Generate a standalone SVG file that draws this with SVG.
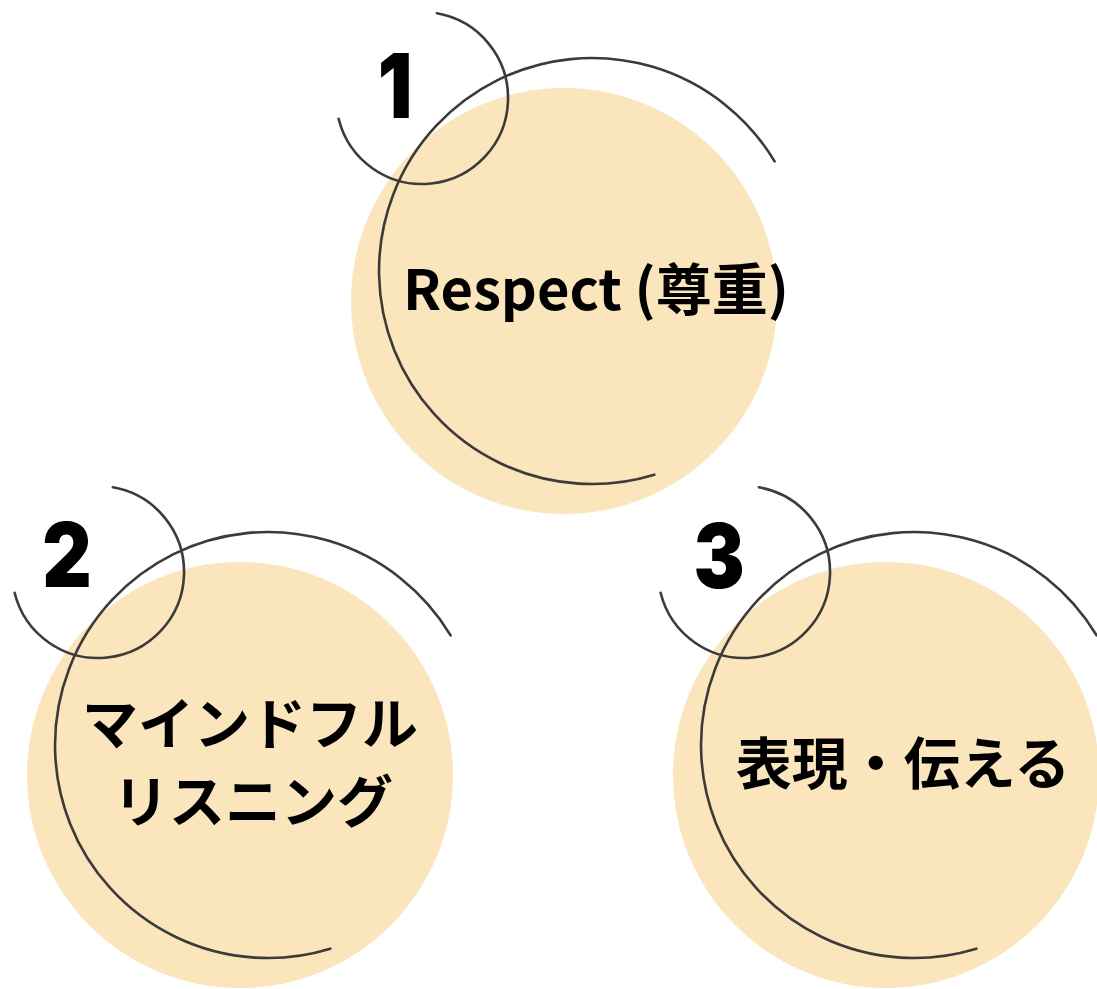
<svg xmlns="http://www.w3.org/2000/svg" width="1097" height="989" viewBox="0 0 1097 989">
<style>
.disc{fill:#FAE5BC;stroke:none}
.ring{fill:none;stroke:#3d3a3a;stroke-width:2.6;stroke-linecap:round}
.num{font-family:Inter,"Noto Sans",sans-serif;font-weight:900;font-size:89px;fill:#000;text-anchor:middle}
.lbl{font-family:"Noto Sans CJK JP","Noto Sans",sans-serif;font-weight:700;font-size:56px;fill:#000;text-anchor:middle}
</style>
<defs>
<g id="deco">
<circle class="disc" cx="0" cy="0" r="213"/>
<path class="ring" d="M 210.6 -139.7 A 213 213 0 1 0 90.3 173.7"/>
<path class="ring" d="M -127.1 -287.7 A 86 86 0 1 1 -225.4 -182.2"/>
</g>
</defs>
<g id="connectors"></g>
<g id="node1">
<use href="#deco" x="564" y="301"/>
<text class="num" transform="translate(395 118) scale(0.86 1)">1</text>
<text class="lbl" x="596" y="310">Respect (尊重)</text>
</g>
<g id="node2">
<use href="#deco" x="240" y="775"/>
<text class="num" transform="translate(67 587) scale(0.86 1)">2</text>
<text class="lbl" x="250" y="744">マインドフル</text>
<text class="lbl" x="253" y="822">リスニング</text>
</g>
<g id="node3">
<use href="#deco" x="886" y="775"/>
<text class="num" transform="translate(719 588) scale(0.86 1)">3</text>
<text class="lbl" x="903" y="784">表現・伝える</text>
</g>
</svg>
